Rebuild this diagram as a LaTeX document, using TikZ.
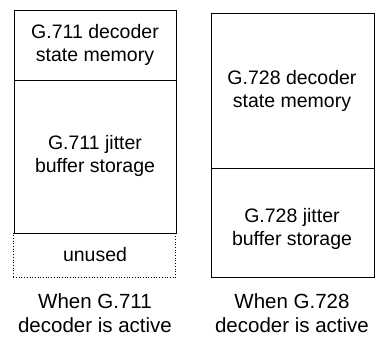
\documentclass[tikz,border=0pt]{standalone}
\usepackage{fontspec}
\setmainfont{Liberation Sans}
\begin{document}
\begin{tikzpicture}[x=1pt,y=-1pt,
  box/.style={draw, line width=0.8pt, anchor=north west, inner sep=0pt},
  unusedbox/.style={draw, line width=0.7pt, dotted, anchor=north west, inner sep=0pt},
  lbl/.style={align=center, font=\fontsize{19.5}{23}\selectfont, inner sep=0pt},
  captiontext/.style={align=center, font=\fontsize{20.5}{23.5}\selectfont, inner sep=0pt}]
\useasboundingbox (0,0) rectangle (378,354);
% left column
\node[box, minimum width=162pt, minimum height=70pt] (lstate) at (14,10) {};
\node[box, minimum width=162pt, minimum height=153pt] (ljit) at (14,80) {};
\node[unusedbox, minimum width=162pt, minimum height=44pt] (lunused) at (13,233) {};
\node[lbl] (tls) at (95,45) {G.711 decoder\\state memory};
\node[lbl] (tlj) at (95,156) {G.711 jitter\\buffer storage};
\node[lbl] (tlu) at (95,255) {unused};
\node[captiontext] (capl) at (95,313) {When G.711\\decoder is active};
% right column
\node[box, minimum width=163pt, minimum height=155pt] (rstate) at (211,13) {};
\node[box, minimum width=163pt, minimum height=109pt] (rjit) at (211,168) {};
\node[lbl] (trs) at (292,91) {G.728 decoder\\state memory};
\node[lbl] (trj) at (292,229) {G.728 jitter\\buffer storage};
\node[captiontext] (capr) at (292,313) {When G.728\\decoder is active};
\end{tikzpicture}
\end{document}
